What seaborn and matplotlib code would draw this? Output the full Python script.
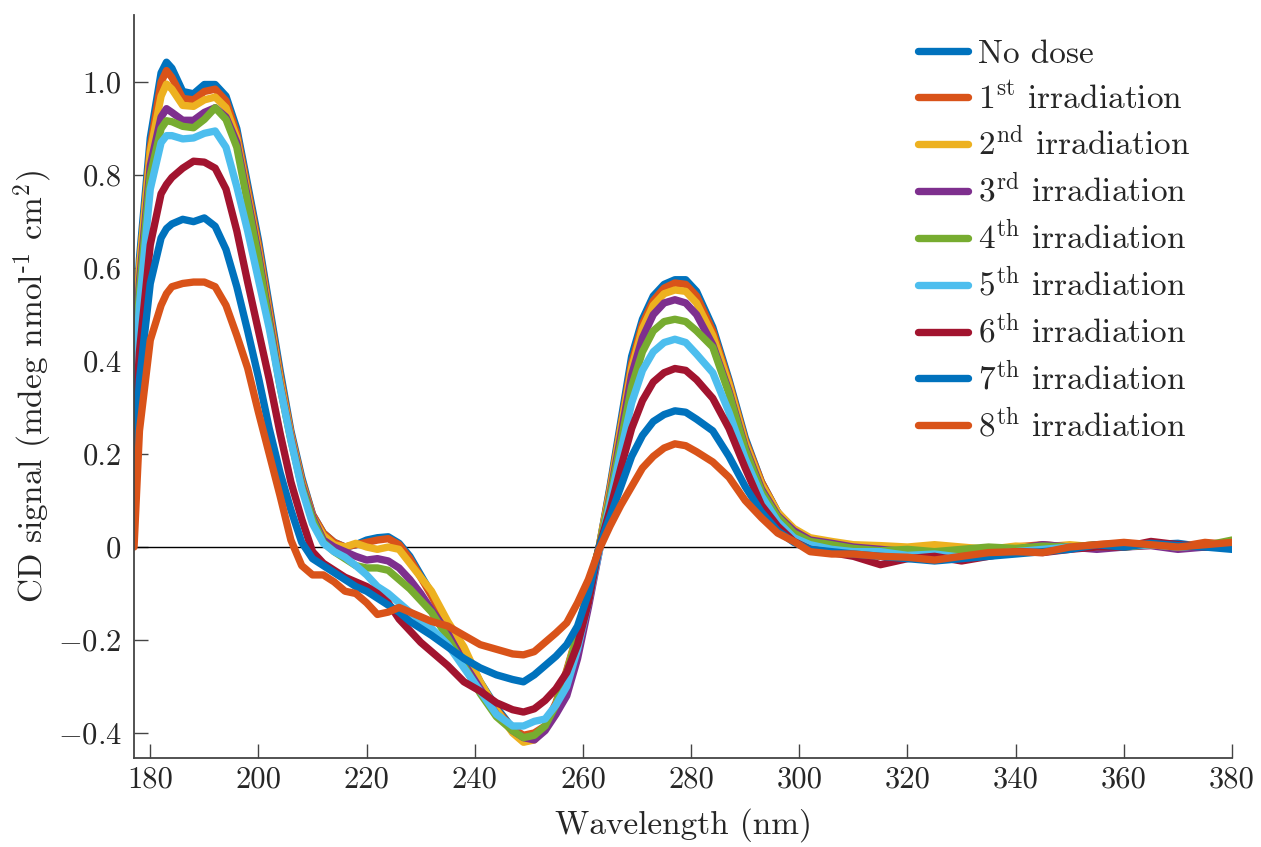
import numpy as np
import pandas as pd
import matplotlib
matplotlib.use("Agg")
import matplotlib.pyplot as plt
import seaborn as sns

# wavelength grid (nm)
wavelength = [177, 178, 180, 182, 183, 184, 186, 188, 190, 192, 194, 196, 198, 200,
              202, 204, 206, 208, 210, 212, 214, 216, 218, 220, 222, 224, 226, 228, 230, 232,
              235, 238, 241, 244, 247, 249, 251, 253, 255, 257, 259, 261, 263,
              265, 267, 269, 271, 273, 275, 277, 279, 281, 284, 287, 290, 293, 296, 299,
              302, 306, 310, 315, 320, 325, 330, 335, 340, 345, 350, 355, 360, 365, 370, 375, 380]

# CD signal per sample (mdeg nmol-1 cm2)
no_dose = [0.42, 0.62, 0.88, 1.02, 1.043, 1.03, 0.98, 0.975, 0.995, 0.995, 0.97, 0.90, 0.78, 0.66,
           0.52, 0.38, 0.25, 0.15, 0.07, 0.03, 0.01, 0.0, 0.005, 0.015, 0.02, 0.022, 0.008, -0.02, -0.06, -0.10,
           -0.165, -0.225, -0.29, -0.345, -0.39, -0.41, -0.405, -0.39, -0.34, -0.27, -0.19, -0.09, 0.0,
           0.13, 0.27, 0.41, 0.49, 0.54, 0.565, 0.575, 0.575, 0.55, 0.473, 0.36, 0.235, 0.14, 0.075, 0.035,
           0.012, 0.005, -0.005, -0.01, -0.008, -0.015, -0.02, -0.015, -0.01, -0.008, 0.0, 0.003, 0.0, 0.005, 0.008, 0.0, 0.012]
irr_1 = [0.40, 0.60, 0.86, 1.0, 1.025, 1.01, 0.965, 0.962, 0.98, 0.985, 0.96, 0.89, 0.77, 0.65,
         0.51, 0.37, 0.245, 0.145, 0.07, 0.03, 0.01, 0.0, 0.005, 0.01, 0.015, 0.018, 0.005, -0.025, -0.065, -0.105,
         -0.17, -0.23, -0.295, -0.35, -0.39, -0.405, -0.40, -0.385, -0.335, -0.265, -0.185, -0.09, 0.0,
         0.125, 0.26, 0.395, 0.48, 0.53, 0.557, 0.568, 0.565, 0.54, 0.465, 0.355, 0.23, 0.14, 0.075, 0.035,
         0.018, 0.01, 0.0, -0.005, -0.01, -0.015, -0.01, -0.005, 0.0, 0.005, 0.0, 0.005, 0.008, 0.005, 0.0, 0.01, 0.005]
irr_2 = [0.40, 0.60, 0.85, 0.97, 0.996, 0.985, 0.95, 0.948, 0.962, 0.968, 0.945, 0.88, 0.76, 0.64,
         0.50, 0.36, 0.24, 0.14, 0.065, 0.025, 0.005, 0.0, 0.008, 0.0, -0.005, 0.0, -0.005, -0.035, -0.065, -0.095,
         -0.16, -0.215, -0.29, -0.35, -0.40, -0.42, -0.415, -0.39, -0.34, -0.27, -0.185, -0.09, 0.0,
         0.12, 0.255, 0.385, 0.47, 0.52, 0.545, 0.553, 0.55, 0.525, 0.455, 0.35, 0.225, 0.135, 0.075, 0.04,
         0.02, 0.012, 0.005, 0.003, 0.0, 0.005, 0.0, -0.005, 0.002, 0.0, 0.005, 0.0, 0.008, 0.005, 0.003, 0.0, 0.01]
irr_3 = [0.38, 0.57, 0.82, 0.925, 0.943, 0.935, 0.918, 0.918, 0.935, 0.945, 0.925, 0.87, 0.75, 0.63,
         0.49, 0.35, 0.235, 0.135, 0.065, 0.015, 0.0, -0.01, -0.02, -0.028, -0.025, -0.03, -0.045, -0.07, -0.10, -0.135,
         -0.185, -0.25, -0.305, -0.36, -0.395, -0.41, -0.415, -0.395, -0.36, -0.32, -0.24, -0.13, -0.01,
         0.11, 0.24, 0.37, 0.45, 0.50, 0.525, 0.532, 0.525, 0.50, 0.435, 0.335, 0.215, 0.125, 0.068, 0.035,
         0.015, 0.008, 0.0, -0.005, -0.01, -0.015, -0.02, -0.01, -0.005, 0.005, 0.0, -0.005, 0.0, 0.003, -0.005, 0.0, 0.008]
irr_4 = [0.36, 0.55, 0.80, 0.90, 0.917, 0.915, 0.905, 0.902, 0.92, 0.945, 0.92, 0.86, 0.74, 0.62,
         0.48, 0.345, 0.23, 0.13, 0.06, 0.01, -0.01, -0.025, -0.04, -0.045, -0.045, -0.05, -0.07, -0.09, -0.115, -0.14,
         -0.195, -0.255, -0.315, -0.365, -0.395, -0.41, -0.405, -0.385, -0.34, -0.27, -0.19, -0.095, 0.0,
         0.105, 0.225, 0.345, 0.42, 0.465, 0.485, 0.49, 0.485, 0.465, 0.43, 0.33, 0.21, 0.12, 0.065, 0.03,
         0.012, 0.005, -0.003, -0.008, -0.005, -0.01, -0.005, 0.0, -0.003, 0.002, 0.0, 0.005, 0.0, 0.005, 0.0, 0.003, 0.015]
irr_5 = [0.33, 0.52, 0.77, 0.87, 0.885, 0.885, 0.878, 0.88, 0.89, 0.895, 0.86, 0.775, 0.68, 0.575,
         0.47, 0.345, 0.23, 0.125, 0.05, 0.008, -0.01, -0.022, -0.04, -0.06, -0.085, -0.10, -0.12, -0.14, -0.158, -0.175,
         -0.21, -0.26, -0.31, -0.36, -0.385, -0.385, -0.375, -0.37, -0.34, -0.30, -0.22, -0.12, -0.01,
         0.095, 0.205, 0.31, 0.38, 0.42, 0.44, 0.447, 0.44, 0.415, 0.375, 0.29, 0.19, 0.11, 0.055, 0.02,
         0.005, -0.005, -0.01, -0.01, -0.018, -0.015, -0.022, -0.015, -0.01, -0.005, 0.0, 0.0, 0.002, 0.005, 0.0, 0.003, 0.005]
irr_6 = [0.22, 0.42, 0.65, 0.76, 0.78, 0.795, 0.815, 0.83, 0.828, 0.815, 0.77, 0.68, 0.57, 0.465,
         0.36, 0.245, 0.14, 0.06, -0.01, -0.035, -0.05, -0.065, -0.075, -0.085, -0.10, -0.12, -0.155, -0.18, -0.205, -0.225,
         -0.255, -0.29, -0.31, -0.335, -0.35, -0.355, -0.348, -0.33, -0.305, -0.27, -0.21, -0.12, 0.0,
         0.08, 0.17, 0.255, 0.315, 0.355, 0.375, 0.384, 0.38, 0.36, 0.32, 0.255, 0.17, 0.09, 0.045, 0.012,
         -0.005, -0.012, -0.02, -0.038, -0.025, -0.02, -0.03, -0.02, -0.01, -0.012, -0.005, 0.0, 0.0, 0.012, 0.005, 0.0, 0.002]
irr_7 = [0.17, 0.36, 0.567, 0.665, 0.685, 0.695, 0.705, 0.70, 0.708, 0.69, 0.64, 0.56, 0.465, 0.365,
         0.255, 0.16, 0.08, 0.01, -0.025, -0.04, -0.055, -0.07, -0.085, -0.095, -0.11, -0.125, -0.14, -0.16, -0.175, -0.19,
         -0.215, -0.24, -0.26, -0.275, -0.285, -0.29, -0.275, -0.255, -0.235, -0.21, -0.17, -0.10, 0.0,
         0.065, 0.13, 0.195, 0.24, 0.27, 0.285, 0.293, 0.29, 0.275, 0.25, 0.195, 0.13, 0.075, 0.035, 0.01,
         -0.005, -0.01, -0.015, -0.02, -0.025, -0.03, -0.025, -0.02, -0.015, -0.01, -0.005, 0.005, 0.0, 0.008, 0.003, 0.0, -0.005]
irr_8 = [0.0, 0.25, 0.445, 0.52, 0.545, 0.56, 0.567, 0.57, 0.57, 0.56, 0.52, 0.455, 0.385, 0.29,
         0.20, 0.11, 0.015, -0.04, -0.06, -0.06, -0.075, -0.095, -0.10, -0.12, -0.145, -0.14, -0.13, -0.14, -0.15, -0.16,
         -0.17, -0.19, -0.21, -0.22, -0.23, -0.232, -0.225, -0.205, -0.185, -0.163, -0.12, -0.07, -0.005,
         0.045, 0.09, 0.13, 0.17, 0.195, 0.213, 0.222, 0.218, 0.205, 0.183, 0.15, 0.10, 0.063, 0.03, 0.012,
         -0.01, -0.015, -0.015, -0.02, -0.022, -0.028, -0.02, -0.012, -0.01, -0.012, 0.0, 0.005, 0.01, 0.005, 0.0, 0.005, 0.01]

labels = ["No dose",
          r"1$^{\mathrm{st}}$ irradiation",
          r"2$^{\mathrm{nd}}$ irradiation",
          r"3$^{\mathrm{rd}}$ irradiation",
          r"4$^{\mathrm{th}}$ irradiation",
          r"5$^{\mathrm{th}}$ irradiation",
          r"6$^{\mathrm{th}}$ irradiation",
          r"7$^{\mathrm{th}}$ irradiation",
          r"8$^{\mathrm{th}}$ irradiation"]
colors = ["#0072BD", "#D95319", "#EDB120", "#7E2F8E", "#77AC30",
          "#4DBEEE", "#A2142F", "#0072BD", "#D95319"]

series = [no_dose, irr_1, irr_2, irr_3, irr_4, irr_5, irr_6, irr_7, irr_8]
frames = []
for lab, vals in zip(labels, series):
    frames.append(pd.DataFrame({"wl": wavelength, "cd": vals, "sample": lab}))
df = pd.concat(frames, ignore_index=True)

sns.set_theme(style="white")
plt.rcParams["font.family"] = ["cmr10", "DejaVu Serif"]
plt.rcParams["mathtext.fontset"] = "cm"
plt.rcParams["axes.formatter.use_mathtext"] = True

fig = plt.figure(figsize=(12.61, 8.47), dpi=100)
ax = fig.add_axes([0.1063, 0.105, 0.977 - 0.1063, 0.982 - 0.105])

ax.axhline(0, color="black", lw=1.0, zorder=1)
sns.lineplot(data=df, x="wl", y="cd", hue="sample", palette=colors,
             hue_order=labels, linewidth=5.3, ax=ax, legend=False, zorder=2,
             sort=False)

ax.set_xlim(177, 380)
ax.set_ylim(-0.454, 1.144)

xt = [180, 200, 220, 240, 260, 280, 300, 320, 340, 360, 380]
ax.set_xticks(xt)
ax.set_xticklabels([str(v) for v in xt])
yt = [-0.4, -0.2, 0, 0.2, 0.4, 0.6, 0.8, 1.0]
ax.set_yticks(yt)
ax.set_yticklabels([r"$-0.4$", r"$-0.2$", "0", "0.2", "0.4", "0.6", "0.8", "1.0"])

ax.tick_params(axis="both", direction="in", length=10, width=1.0, color="#444444",
               labelsize=22, bottom=True, left=True)
ax.tick_params(axis="x", pad=6)
ax.tick_params(axis="y", pad=9)

for s in ["top", "right"]:
    ax.spines[s].set_visible(False)
for s in ["left", "bottom"]:
    ax.spines[s].set_color("#444444")
    ax.spines[s].set_linewidth(1.3)

ax.set_xlabel("Wavelength (nm)", fontsize=24, labelpad=10)
ax.set_ylabel(r"CD signal (mdeg nmol$^{\text{-1}}$ cm$^{2}$)", fontsize=24, labelpad=3)

handles = [plt.Line2D([], [], color=c, lw=5.3) for c in colors]
leg = fig.legend(handles, labels, loc="upper left", bbox_to_anchor=(0.7276, 0.953),
                 frameon=False, fontsize=24, handlelength=1.5, handletextpad=0.3,
                 labelspacing=0.38, borderpad=0, borderaxespad=0)

fig.savefig("out.png", dpi=100)
